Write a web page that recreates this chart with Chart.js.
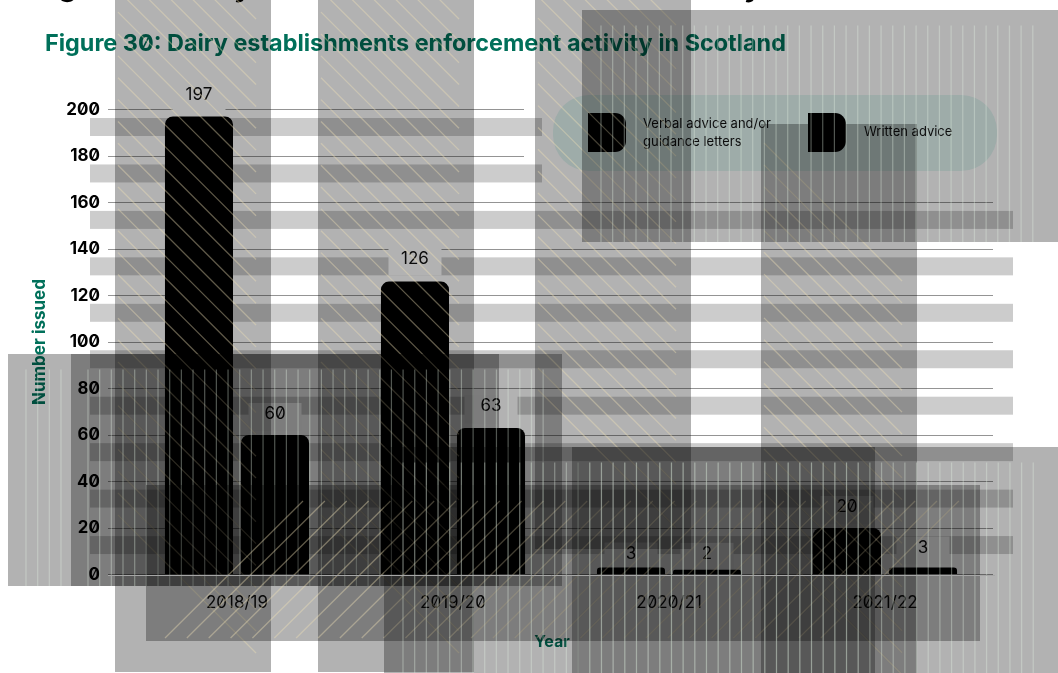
<!DOCTYPE html>
<html>
<head>
<meta charset="utf-8">
<title>Dairy establishments enforcement activity in Scotland</title>
<script src="https://cdn.jsdelivr.net/npm/chart.js@4/dist/chart.umd.js"></script>
<style>
  body { margin: 0; background: #fff; }
  canvas { display: block; font-feature-settings: "zero"; }
</style>
</head>
<body>
<canvas id="chart" width="1058" height="673"></canvas>
<script>
const categories = ['2018/19', '2019/20', '2020/21', '2021/22'];
const verbalAdvice = [197, 126, 3, 20];
const writtenAdvice = [60, 63, 2, 3];
const seriesNames = ['Verbal advice and/or guidance letters', 'Written advice'];
const yMax = 200;
const yStep = 10;
const yLabelStep = 20;

const FONT = 'Inter, "Noto Sans", sans-serif';
const GREEN = '#00705a';
const GRID = '#949494';

// how far above each bar its value label sits
const labelLift = [[22, 23, 14, 21], [21, 22, 16, 20]];

const rowBand = { left: 90, right: 1013, height: 18, first: 118, step: 46.45, rows: 10 };

const panels = [
  { x: 115, y: -141, w: 156, h: 813, hatch: 'back', from: -119, to: 515 },
  { x: 318, y: -141, w: 156, h: 813, hatch: 'back', from: -119, to: 515 },
  { x: 535, y: -151, w: 156, h: 700, hatch: 'back', from: -113, to: 391 },
  { x: 761, y: 124, w: 156, h: 560, hatch: 'back', from: 143, to: 540 },
  { x: 582, y: 10, w: 476, h: 232, hatch: 'up', from: 601, to: 1043 },
  { x: 8, y: 354, w: 491, h: 232, hatch: 'up', from: 26, to: 62 },
  { x: 71, y: 354, w: 491, h: 232, hatch: 'up', from: 88, to: 547 },
  { x: 146, y: 485, w: 834, h: 156, hatch: 'forward' },
  { x: 384, y: 447, w: 491, h: 232, hatch: 'up', from: 403, to: 860 },
  { x: 572, y: 447, w: 491, h: 232, hatch: 'up', from: 589.8, to: 1043 },
];

function drawText(ctx, text, x, y, font, color, align) {
  ctx.font = font;
  ctx.fillStyle = color;
  ctx.textAlign = align || 'left';
  ctx.textBaseline = 'middle';
  ctx.fillText(text, x, y);
}

function eachBar(chart, callback) {
  chart.data.datasets.forEach((dataset, i) => {
    chart.getDatasetMeta(i).data.forEach((bar, j) => {
      callback(bar, dataset.data[j], bar.y - labelLift[i][j]);
    });
  });
}

function drawPanel(ctx, panel) {
  ctx.fillStyle = 'rgba(0, 0, 0, 0.3)';
  ctx.fillRect(panel.x, panel.y, panel.w, panel.h);
  ctx.beginPath();
  if (panel.hatch === 'up') {
    ctx.lineWidth = 1.2;
    ctx.strokeStyle = 'rgba(225, 238, 225, 0.36)';
    for (let x = panel.from; x < panel.to; x += 11.67) {
      ctx.moveTo(x, panel.y + 15.5);
      ctx.lineTo(x, panel.y + panel.h);
    }
  } else if (panel.hatch === 'back') {
    ctx.lineWidth = 1.3;
    ctx.strokeStyle = 'rgba(238, 222, 180, 0.4)';
    for (let c = panel.from; c <= panel.to; c += 21.86) {
      ctx.moveTo(panel.x + 3, c);
      ctx.lineTo(panel.x + 141, c + 138);
    }
  } else {
    ctx.lineWidth = 1.3;
    ctx.strokeStyle = 'rgba(238, 222, 180, 0.4)';
    for (let x = panel.x + 19; x <= panel.x + 680; x += 21.86) {
      ctx.moveTo(x, panel.y + 153);
      ctx.lineTo(x + 138, panel.y + 16);
    }
  }
  ctx.stroke();
}

function drawLegend(ctx) {
  ctx.fillStyle = '#e2f6f3';
  ctx.beginPath();
  ctx.roundRect(553, 95, 444, 76, 36);
  ctx.fill();

  ctx.fillStyle = '#000';
  [588, 808].forEach((x) => {
    ctx.beginPath();
    ctx.roundRect(x, 113, 38, 39, [0, 11, 11, 0]);
    ctx.fill();
  });

  const legendFont = `13px ${FONT}`;
  drawText(ctx, 'Verbal advice and/or', 643, 124, legendFont, '#111');
  drawText(ctx, 'guidance letters', 643, 142, legendFont, '#111');
  drawText(ctx, seriesNames[1], 864, 132, legendFont, '#111');
}

const layersPlugin = {
  id: 'layers',
  beforeDatasetsDraw(chart) {
    const { ctx } = chart;
    ctx.save();
    // the legend keeps its corner of the plot clear of grid lines
    ctx.fillStyle = '#fff';
    ctx.fillRect(524, 90, 480, 100);

    ctx.fillStyle = 'rgba(0, 0, 0, 0.2)';
    for (let i = 0; i < rowBand.rows; i++) {
      const right = i < 2 ? 542 : rowBand.right;
      ctx.fillRect(rowBand.left, rowBand.first + i * rowBand.step, right - rowBand.left, rowBand.height);
    }

    ctx.fillStyle = '#fff';
    eachBar(chart, (bar, value, labelY) => {
      ctx.fillRect(bar.x - 26.5, labelY - 11, 53, 28);
    });
    ctx.restore();
  },
  afterDatasetsDraw(chart) {
    const { ctx } = chart;
    ctx.save();
    eachBar(chart, (bar, value, labelY) => {
      drawText(ctx, String(value), bar.x, labelY, `17px ${FONT}`, '#111', 'center');
    });
    drawLegend(ctx);
    drawText(ctx, 'Figure 30: Dairy establishments enforcement activity in Scotland', 45, 44, `bold 23.4px ${FONT}`, GREEN);
    drawText(ctx, 'Year', 552, 642, `bold 16px ${FONT}`, GREEN, 'center');
    // tail ends of the section heading above, running off the top edge
    [['g', 58], ['y', 234], ['y', 744]].forEach(([glyph, x]) => {
      drawText(ctx, glyph, x, -13, `bold 30px ${FONT}`, '#000');
    });
    ctx.restore();
  },
  afterDraw(chart) {
    const { ctx, scales } = chart;
    ctx.save();
    panels.forEach((panel) => drawPanel(ctx, panel));

    // zero line stays on top of the panels
    const zero = Math.round(scales.y.getPixelForValue(0)) + 0.5;
    ctx.strokeStyle = '#a6a6a6';
    ctx.lineWidth = 1;
    ctx.beginPath();
    ctx.moveTo(108, zero);
    ctx.lineTo(995, zero);
    ctx.stroke();
    ctx.restore();
  },
};

Chart.defaults.font.family = FONT;

new Chart(document.getElementById('chart'), {
  type: 'bar',
  plugins: [layersPlugin],
  data: {
    labels: categories,
    datasets: [
      { label: seriesNames[0], data: verbalAdvice },
      { label: seriesNames[1], data: writtenAdvice },
    ].map((dataset) => ({
      ...dataset,
      backgroundColor: '#000',
      borderRadius: 8,
      barPercentage: 0.895,
      categoryPercentage: 0.704,
    })),
  },
  options: {
    responsive: false,
    animation: false,
    layout: { padding: { top: 109.5, right: 65, bottom: 0, left: 0 } },
    plugins: { legend: { display: false }, tooltip: { enabled: false } },
    scales: {
      x: {
        afterFit: (scale) => { scale.height = 98.5; },
        grid: { display: false },
        border: { display: false },
        ticks: { padding: 10, color: '#111', font: { size: 17 } },
      },
      y: {
        min: 0,
        max: yMax,
        afterFit: (scale) => { scale.width = 129; },
        border: { display: false },
        grid: {
          tickLength: 21,
          lineWidth: 1,
          color: (ctx) => (ctx.tick.value % yLabelStep === 0 ? GRID : 'rgba(0, 0, 0, 0.05)'),
        },
        ticks: {
          stepSize: yStep,
          autoSkip: false,
          padding: 8,
          color: '#000',
          font: { size: 17, weight: 'bold' },
          callback: (value) => (value % yLabelStep === 0 ? value : null),
        },
        title: {
          display: true,
          text: 'Number issued',
          color: GREEN,
          padding: { top: 30, bottom: 0 },
          font: { size: 17, weight: 'bold' },
        },
      },
    },
  },
});
</script>
</body>
</html>
